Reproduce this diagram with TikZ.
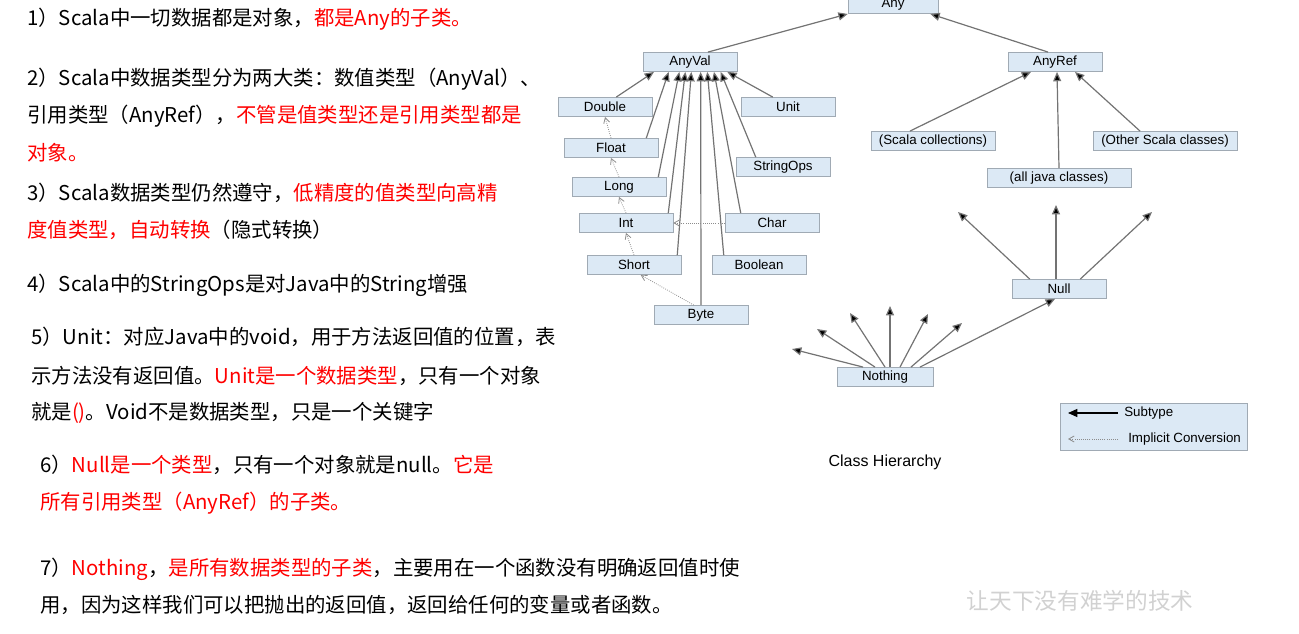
\documentclass[tikz,border=0pt]{standalone}
\usepackage{fontspec}
\setmainfont{Liberation Sans}
\newfontfamily\cjk{Noto Sans CJK SC}
\usetikzlibrary{arrows.meta}
\definecolor{boxfill}{RGB}{220,233,245}
\definecolor{boxline}{RGB}{160,170,180}
\begin{document}
\begin{tikzpicture}[x=0.75pt,y=-0.75pt,
  cls/.style={draw=boxline,fill=boxfill,minimum width=#1*0.75pt,minimum height=14.5pt,inner sep=0pt,font=\fontsize{10}{11}\selectfont},
  cls/.default=94,
  sub/.style={draw=black!55,line width=0.9pt,-{Triangle[length=7pt,width=6pt,fill=black]}},
  imp/.style={draw=black!45,densely dotted,line width=0.6pt,-{Straight Barb[length=4pt,width=4.5pt]}},
  txt/.style={anchor=base west,inner sep=0pt,font=\cjk\fontsize{15.3}{18}\selectfont}]
\useasboundingbox (0,0) rectangle (1299,634);
% text block
\node[txt] (t1) at (27,26) {1）Scala中一切数据都是对象，\textcolor{red}{都是Any的子类。}};
\node[txt] (t2) at (27,86) {2）Scala中数据类型分为两大类：数值类型（AnyVal）、};
\node[txt] (t2b) at (27,123) {引用类型（AnyRef），\textcolor{red}{不管是值类型还是引用类型都是}};
\node[txt] (t2c) at (27,161) {\textcolor{red}{对象。}};
\node[txt] (t3) at (27,201) {3）Scala数据类型仍然遵守，\textcolor{red}{低精度的值类型向高精}};
\node[txt] (t3b) at (27,238) {\textcolor{red}{度值类型，自动转换}（隐式转换）};
\node[txt] (t4) at (27,292) {4）Scala中的StringOps是对Java中的String增强};
\node[txt] (t5) at (31,345) {5）Unit：对应Java中的void，用于方法返回值的位置，表};
\node[txt] (t5b) at (31,383) {示方法没有返回值。\textcolor{red}{Unit是一个数据类型}，只有一个对象};
\node[txt] (t5c) at (31,419) {就是\textcolor{red}{()}。Void不是数据类型，只是一个关键字};
\node[txt] (t6) at (40,472) {6）\textcolor{red}{Null是一个类型}，只有一个对象就是null。\textcolor{red}{它是}};
\node[txt] (t6b) at (40,509) {\textcolor{red}{所有引用类型（AnyRef）的子类。}};
\node[txt] (t7) at (40,575) {7）\textcolor{red}{Nothing}，\textcolor{red}{是所有数据类型的子类}，主要用在一个函数没有明确返回值时使};
\node[txt] (t7b) at (40,612) {用，因为这样我们可以把抛出的返回值，返回给任何的变量或者函数。};
\node[font=\cjk\fontsize{17}{20}\selectfont\itshape,text=black!18] (wm) at (1080,601) {让天下没有难学的技术};
% classes
\node[cls=90] (any) at (893,4) {Any};
\node[cls] (anyval) at (690,62) {AnyVal};
\node[cls] (anyref) at (1055,62) {AnyRef};
\node[cls] (double) at (605,107) {Double};
\node[cls] (unit) at (788,107) {Unit};
\node[cls] (float) at (611,148) {Float};
\node[cls] (stringops) at (783,167) {StringOps};
\node[cls] (long) at (619,187) {Long};
\node[cls] (int) at (626,223) {Int};
\node[cls] (char) at (772,223) {Char};
\node[cls] (short) at (634,265) {Short};
\node[cls] (boolean) at (759,265) {Boolean};
\node[cls] (byte) at (701,315) {Byte};
\node[cls=124] (scol) at (933,141) {(Scala collections)};
\node[cls=144] (oth) at (1165,141) {(Other Scala classes)};
\node[cls=144] (java) at (1059,178) {(all java classes)};
\node[cls] (null) at (1059,289) {Null};
\node[cls=96] (nothing) at (885,377) {Nothing};
% free ends
\coordinate (n1) at (958,212); \coordinate (n2) at (1056,205); \coordinate (n3) at (1152,212);
\coordinate (m1) at (792,349); \coordinate (m2) at (817,329); \coordinate (m3) at (850,313);
\coordinate (m4) at (890,306); \coordinate (m5) at (928,314); \coordinate (m6) at (962,323);
% AnyVal subtypes
\draw[sub] (double.north east)+(-36,0) -- ([xshift=-27pt]anyval.south);
\draw[sub] (float.north east)+(-12,0) -- ([xshift=-16pt]anyval.south);
\draw[sub] (long.north east)+(-8,0) -- ([xshift=-8pt]anyval.south);
\draw[sub] (int.north east)+(-5,0) -- ([xshift=-3.5pt]anyval.south);
\draw[sub] (short.north east)+(-4,0) -- ([xshift=1pt]anyval.south);
\draw[sub] (byte.north) -- ([xshift=8pt]anyval.south);
\draw[sub] (boolean.north west)+(12,0) -- ([xshift=13pt]anyval.south);
\draw[sub] (char.north west)+(16,0) -- ([xshift=18pt]anyval.south);
\draw[sub] (stringops.north west)+(20,0) -- ([xshift=23pt]anyval.south);
\draw[sub] (unit.north west)+(32,0) -- ([xshift=28pt]anyval.south);
% implicit conversions
\draw[imp] (float.north) -- (double.south);
\draw[imp] (long.north) -- (float.south);
\draw[imp] (int.north) -- (long.south);
\draw[imp] (short.north) -- (int.south);
\draw[imp] (byte.north west)+(40,0) -- ([xshift=5pt]short.south);
\draw[imp] (char.west) -- (int.east);
% Any
\draw[sub] (anyval.north)+(18,0) -- (any.south west);
\draw[sub] (anyref.north)+(-7,0) -- ([xshift=28pt]any.south);
% AnyRef
\draw[sub] (scol.north)+(-23,0) -- ([xshift=-18pt]anyref.south);
\draw[sub] (java.north) -- ([xshift=1.5pt]anyref.south);
\draw[sub] (oth.north)+(-25,0) -- ([xshift=15pt]anyref.south);
% Null
\draw[sub] (null.north west)+(18,0) -- (n1);
\draw[sub] (null.north)+(-3,0) -- (n2);
\draw[sub] (null.north east)+(-26,0) -- (n3);
% Nothing
\draw[sub] (nothing.north)+(-22,0) -- (m1);
\draw[sub] (nothing.north)+(-10,0) -- (m2);
\draw[sub] (nothing.north)+(0,0) -- (m3);
\draw[sub] (nothing.north)+(5,0) -- (m4);
\draw[sub] (nothing.north)+(15,0) -- (m5);
\draw[sub] (nothing.north)+(26,0) -- (m6);
\draw[sub] (nothing.north)+(35,0) -- ([xshift=-3pt]null.south);
% legend
\node[draw=boxline,fill=boxfill,minimum width=140pt,minimum height=35pt] (leg) at (1153.5,426.5) {};
\coordinate (l1a) at (1118,413); \coordinate (l1b) at (1068,413);
\coordinate (l2a) at (1118,439); \coordinate (l2b) at (1068,439);
\draw[line width=0.9pt,-{Triangle[length=7pt,width=6pt]}] (l1a) -- (l1b);
\draw[imp] (l2a) -- (l2b);
\node[anchor=west,font=\fontsize{10}{11}\selectfont,inner sep=0pt] (lt1) at (1124,413) {Subtype};
\node[anchor=west,font=\fontsize{10}{11}\selectfont,inner sep=0pt] (lt2) at (1128,439) {Implicit Conversion};
\node[font=\fontsize{12}{13}\selectfont] (title) at (885,462) {Class Hierarchy};
\end{tikzpicture}
\end{document}
